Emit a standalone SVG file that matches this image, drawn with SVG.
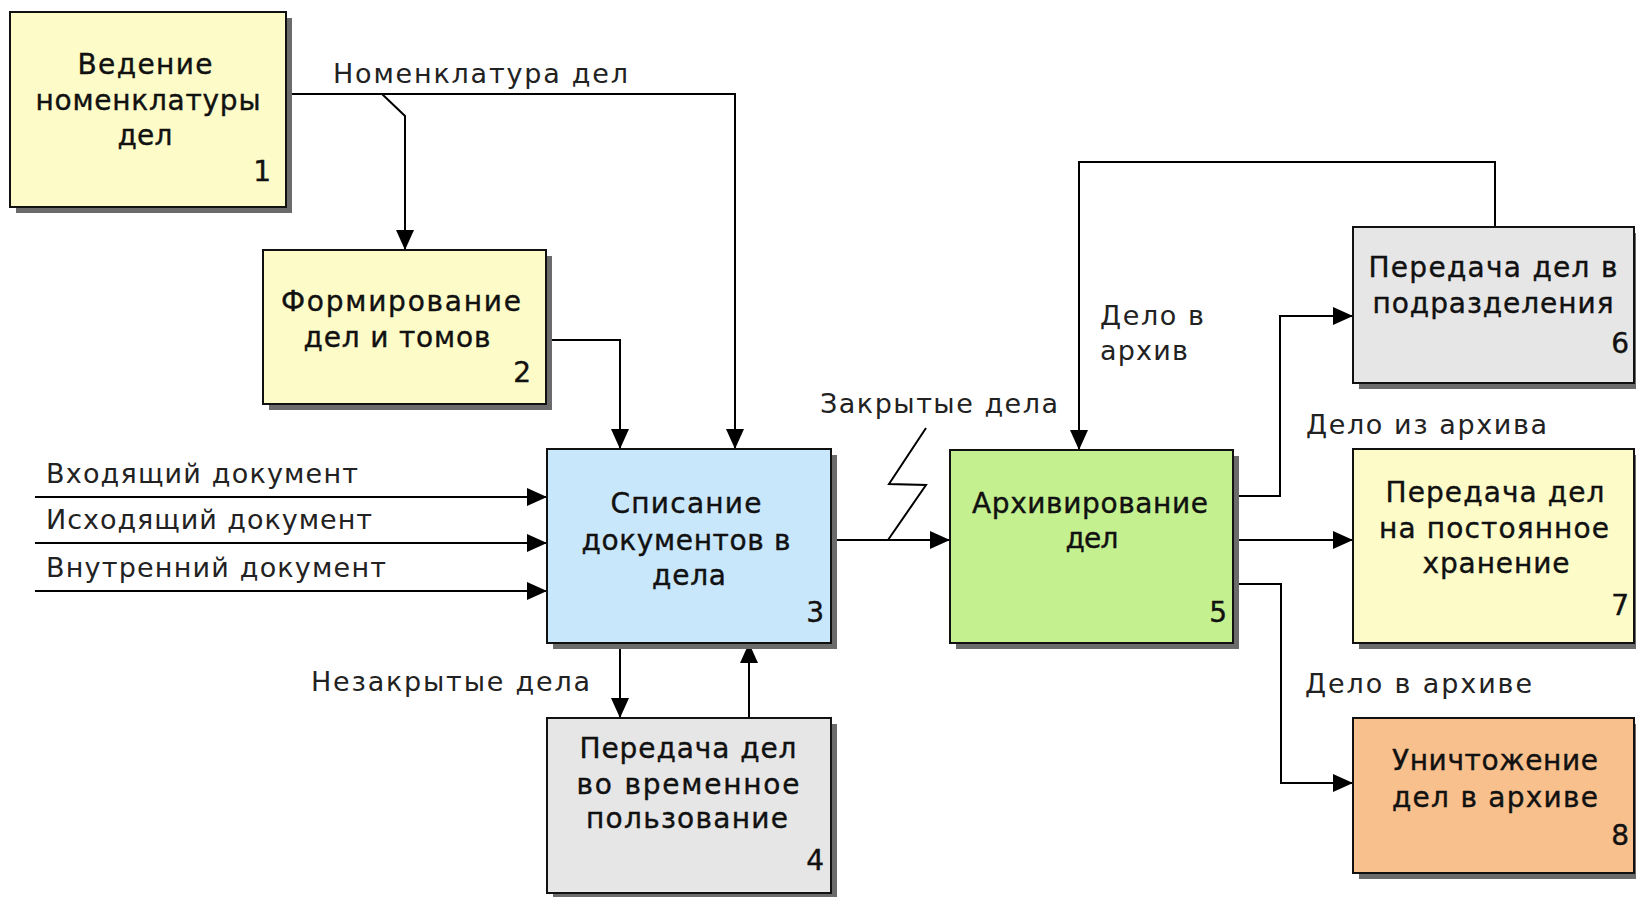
<svg xmlns="http://www.w3.org/2000/svg" width="1636" height="897" viewBox="0 0 1636 897">
<defs>
<marker id="arr" markerUnits="userSpaceOnUse" markerWidth="20" markerHeight="18" refX="20" refY="9" orient="auto">
<path d="M0,0 L20,9 L0,18 z" fill="#000"/>
</marker>
<style>
.box{stroke:#111;stroke-width:2}
.sh{fill:#6b6b6b}
.t{font-family:"DejaVu Sans","Liberation Sans",sans-serif;font-size:28px;fill:#111;stroke:#111;stroke-width:0.4;text-anchor:middle}
.n{font-family:"DejaVu Sans","Liberation Sans",sans-serif;font-size:28px;fill:#111;stroke:#111;stroke-width:0.4;text-anchor:end}
.l{font-family:"DejaVu Sans","Liberation Sans",sans-serif;font-size:27px;fill:#222}
.c{fill:none;stroke:#000;stroke-width:2}
.ca{fill:none;stroke:#000;stroke-width:2;marker-end:url(#arr)}
.yel{fill:#fdfcc8}
.blu{fill:#c9e7fb}
.gry{fill:#e6e6e6}
.grn{fill:#c5f08f}
.org{fill:#f8c08d}
</style>
</defs>
<rect width="1636" height="897" fill="#fff"/>

<g id="connectors">
<path class="ca" d="M286,94 H735 V449"/>
<path class="ca" d="M382,94 L405,116 V250"/>
<path class="ca" d="M546,340 H620 V449"/>
<path class="ca" d="M35,497 H547"/>
<path class="ca" d="M35,543 H547"/>
<path class="ca" d="M35,591 H547"/>
<path class="ca" d="M620,643 V718"/>
<path class="ca" d="M749,718 V643"/>
<path class="ca" d="M831,540 H950"/>
<path class="c" d="M888,540 L926,485 L889,484 L926,428"/>
<path class="ca" d="M1495,227 V162 H1079 V450"/>
<path class="ca" d="M1233,496 H1280 V316 H1353"/>
<path class="ca" d="M1233,540 H1353"/>
<path class="ca" d="M1233,584 H1281 V783 H1353"/>
<text class="l" x="333" y="83" textLength="295" lengthAdjust="spacing">Номенклатура дел</text>
<text class="l" x="46" y="483" textLength="312" lengthAdjust="spacing">Входящий документ</text>
<text class="l" x="46" y="529" textLength="326" lengthAdjust="spacing">Исходящий документ</text>
<text class="l" x="46" y="577" textLength="340" lengthAdjust="spacing">Внутренний документ</text>
<text class="l" x="311" y="691" textLength="279" lengthAdjust="spacing">Незакрытые дела</text>
<text class="l" x="820" y="413" textLength="238" lengthAdjust="spacing">Закрытые дела</text>
<text class="l" x="1100" y="325" textLength="104" lengthAdjust="spacing">Дело в</text>
<text class="l" x="1100" y="360" textLength="88" lengthAdjust="spacing">архив</text>
<text class="l" x="1306" y="434" textLength="241" lengthAdjust="spacing">Дело из архива</text>
<text class="l" x="1305" y="693" textLength="227" lengthAdjust="spacing">Дело в архиве</text>
</g>

<g id="node1">
<rect class="sh" x="16" y="18" width="276" height="195"/>
<rect class="box yel" x="10" y="12" width="276" height="195"/>
<text class="t" x="145" y="74" textLength="135" lengthAdjust="spacing">Ведение</text>
<text class="t" x="148" y="110" textLength="225" lengthAdjust="spacing">номенклатуры</text>
<text class="t" x="145" y="145" textLength="55" lengthAdjust="spacing">дел</text>
<text class="n" x="271" y="181">1</text>
</g>

<g id="node2">
<rect class="sh" x="269" y="256" width="283" height="154"/>
<rect class="box yel" x="263" y="250" width="283" height="154"/>
<text class="t" x="401" y="311" textLength="240" lengthAdjust="spacing">Формирование</text>
<text class="t" x="397" y="347" textLength="187" lengthAdjust="spacing">дел и томов</text>
<text class="n" x="531" y="382">2</text>
</g>

<g id="node3">
<rect class="sh" x="553" y="455" width="284" height="194"/>
<rect class="box blu" x="547" y="449" width="284" height="194"/>
<text class="t" x="686" y="513" textLength="151" lengthAdjust="spacing">Списание</text>
<text class="t" x="686" y="550" textLength="209" lengthAdjust="spacing">документов в</text>
<text class="t" x="689" y="585" textLength="74" lengthAdjust="spacing">дела</text>
<text class="n" x="824" y="622">3</text>
</g>

<g id="node4">
<rect class="sh" x="553" y="724" width="284" height="175"/>
<rect class="box gry" x="547" y="718" width="284" height="175"/>
<text class="t" x="688" y="758" textLength="217" lengthAdjust="spacing">Передача дел</text>
<text class="t" x="688" y="794" textLength="223" lengthAdjust="spacing">во временное</text>
<text class="t" x="687" y="828" textLength="202" lengthAdjust="spacing">пользование</text>
<text class="n" x="824" y="870">4</text>
</g>

<g id="node5">
<rect class="sh" x="956" y="456" width="283" height="193"/>
<rect class="box grn" x="950" y="450" width="283" height="193"/>
<text class="t" x="1090" y="513" textLength="236" lengthAdjust="spacing">Архивирование</text>
<text class="t" x="1092" y="548" textLength="53" lengthAdjust="spacing">дел</text>
<text class="n" x="1227" y="622">5</text>
</g>

<g id="node6">
<rect class="sh" x="1359" y="233" width="281" height="156"/>
<rect class="box gry" x="1353" y="227" width="281" height="156"/>
<text class="t" x="1493" y="277" textLength="249" lengthAdjust="spacing">Передача дел в</text>
<text class="t" x="1493" y="313" textLength="241" lengthAdjust="spacing">подразделения</text>
<text class="n" x="1629" y="353">6</text>
</g>

<g id="node7">
<rect class="sh" x="1359" y="455" width="281" height="194"/>
<rect class="box yel" x="1353" y="449" width="281" height="194"/>
<text class="t" x="1495" y="502" textLength="219" lengthAdjust="spacing">Передача дел</text>
<text class="t" x="1494" y="538" textLength="230" lengthAdjust="spacing">на постоянное</text>
<text class="t" x="1496" y="573" textLength="147" lengthAdjust="spacing">хранение</text>
<text class="n" x="1629" y="615">7</text>
</g>

<g id="node8">
<rect class="sh" x="1359" y="724" width="281" height="155"/>
<rect class="box org" x="1353" y="718" width="281" height="155"/>
<text class="t" x="1495" y="770" textLength="206" lengthAdjust="spacing">Уничтожение</text>
<text class="t" x="1495" y="807" textLength="206" lengthAdjust="spacing">дел в архиве</text>
<text class="n" x="1629" y="845">8</text>
</g>
</svg>
